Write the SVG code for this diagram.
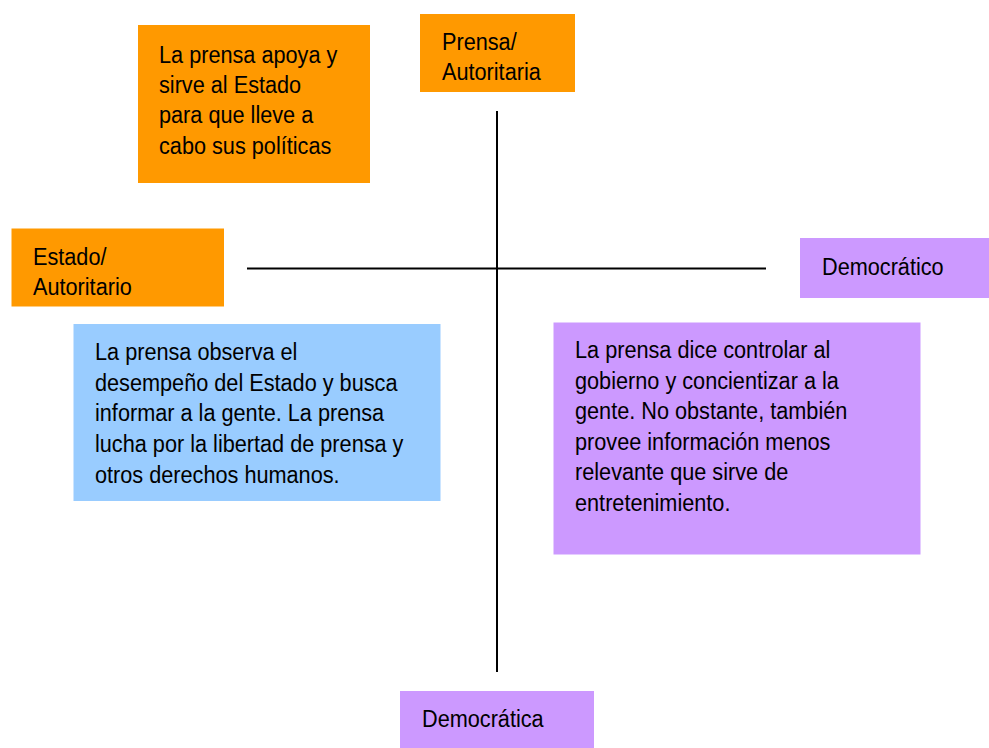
<svg xmlns="http://www.w3.org/2000/svg" width="989" height="748" viewBox="0 0 989 748">
<style>
.orange{fill:#FF9900}
.purple{fill:#CC99FF}
.blue{fill:#99CCFF}
.t{font-family:"Liberation Sans",Arial,sans-serif;font-size:24.5px;fill:#000}
.axis{stroke:#000;stroke-width:2;fill:none}
</style>
<rect width="989" height="748" fill="#fff"/>
<g id="connectors">
<line class="axis" x1="247" y1="268.5" x2="766" y2="268.5"/>
<line class="axis" x1="497" y1="111" x2="497" y2="672"/>
</g>
<g id="node-apoya">
<rect class="orange" x="138" y="25" width="232" height="158"/>
<text class="t" transform="translate(159,62.5) scale(0.885,1)"><tspan x="0" y="0">La prensa apoya y</tspan><tspan x="0" y="30.5">sirve al Estado</tspan><tspan x="0" y="61">para que lleve a</tspan><tspan x="0" y="91.5">cabo sus políticas</tspan></text>
</g>
<g id="node-prensa-autoritaria">
<rect class="orange" x="420" y="14" width="155" height="78"/>
<text class="t" transform="translate(442,50) scale(0.885,1)"><tspan x="0" y="0">Prensa/</tspan><tspan x="0" y="30">Autoritaria</tspan></text>
</g>
<g id="node-estado-autoritario">
<rect class="orange" x="11.5" y="228.5" width="212.5" height="78"/>
<text class="t" transform="translate(33,265) scale(0.885,1)"><tspan x="0" y="0">Estado/</tspan><tspan x="0" y="30">Autoritario</tspan></text>
</g>
<g id="node-democratico">
<rect class="purple" x="800" y="238" width="189" height="60"/>
<text class="t" transform="translate(822,275) scale(0.885,1)">Democrático</text>
</g>
<g id="node-observa">
<rect class="blue" x="73.5" y="324" width="367" height="177"/>
<text class="t" transform="translate(95,360) scale(0.885,1)"><tspan x="0" y="0">La prensa observa el</tspan><tspan x="0" y="30.7">desempeño del Estado y busca</tspan><tspan x="0" y="61.4">informar a la gente. La prensa</tspan><tspan x="0" y="92.1">lucha por la libertad de prensa y</tspan><tspan x="0" y="122.8">otros derechos humanos.</tspan></text>
</g>
<g id="node-controlar">
<rect class="purple" x="553.5" y="322.5" width="367" height="232"/>
<text class="t" transform="translate(575,358) scale(0.885,1)"><tspan x="0" y="0">La prensa dice controlar al</tspan><tspan x="0" y="30.6">gobierno y concientizar a la</tspan><tspan x="0" y="61.2">gente. No obstante, también</tspan><tspan x="0" y="91.8">provee información menos</tspan><tspan x="0" y="122.4">relevante que sirve de</tspan><tspan x="0" y="153">entretenimiento.</tspan></text>
</g>
<g id="node-democratica">
<rect class="purple" x="400" y="691" width="194" height="57"/>
<text class="t" transform="translate(422,727) scale(0.885,1)">Democrática</text>
</g>
</svg>
